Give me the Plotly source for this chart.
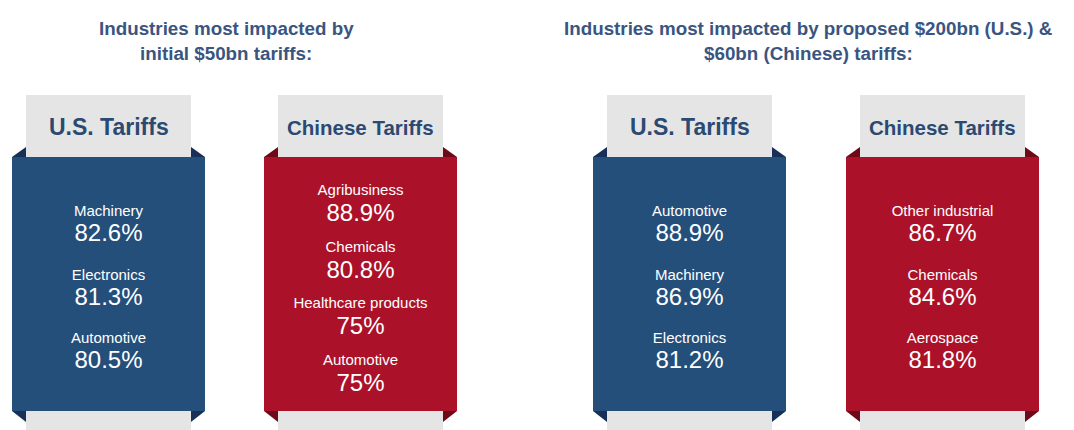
import plotly.graph_objects as go

# ---- data ----
section_titles = [
    ["Industries most impacted by", "initial $50bn tariffs:"],
    ["Industries most impacted by proposed $200bn (U.S.) &", "$60bn (Chinese) tariffs:"],
]
card_titles = ["U.S. Tariffs", "Chinese Tariffs", "U.S. Tariffs", "Chinese Tariffs"]
card_kinds = ["us", "cn", "us", "cn"]

us_50_industries = ["Machinery", "Electronics", "Automotive"]
us_50_values = [82.6, 81.3, 80.5]
cn_50_industries = ["Agribusiness", "Chemicals", "Healthcare products", "Automotive"]
cn_50_values = [88.9, 80.8, 75, 75]
us_200_industries = ["Automotive", "Machinery", "Electronics"]
us_200_values = [88.9, 86.9, 81.2]
cn_60_industries = ["Other industrial", "Chemicals", "Aerospace"]
cn_60_values = [86.7, 84.6, 81.8]

card_industries = [us_50_industries, cn_50_industries, us_200_industries, cn_60_industries]
card_values = [us_50_values, cn_50_values, us_200_values, cn_60_values]

# ---- style / layout ----
W, H = 1074, 430
PAGE_MARGIN = 8  # default body margin of the html page
body_left = [12, 264, 593, 846]
body_w = 193
inset = 14
tab_top, body_top, body_bot = 95, 157, 411
fill = {"us": "#244f7b", "cn": "#ab1229"}
fold = {"us": "#182f57", "cn": "#6e0a18"}
tab_gray = "#e5e5e5"
title_color = "#3a5580"
tab_text_color = "#2b4a72"
font_family = "Liberation Sans, Arial, Helvetica, sans-serif"

shapes = []
annotations = []
fig = go.Figure()

for i, L in enumerate(body_left):
    R = L + body_w
    k = card_kinds[i]
    # folds (top)
    shapes.append(dict(type="path", path=f"M {L},{body_top} L {L+inset},{body_top-10} L {L+inset},{body_top} Z",
                       fillcolor=fold[k], line=dict(width=0), layer="below"))
    shapes.append(dict(type="path", path=f"M {R},{body_top} L {R-inset},{body_top-10} L {R-inset},{body_top} Z",
                       fillcolor=fold[k], line=dict(width=0), layer="below"))
    # folds (bottom)
    shapes.append(dict(type="path", path=f"M {L},{body_bot} L {L+inset},{body_bot+11} L {L+inset},{body_bot} Z",
                       fillcolor=fold[k], line=dict(width=0), layer="below"))
    shapes.append(dict(type="path", path=f"M {R},{body_bot} L {R-inset},{body_bot+11} L {R-inset},{body_bot} Z",
                       fillcolor=fold[k], line=dict(width=0), layer="below"))
    # body
    shapes.append(dict(type="rect", x0=L, x1=R, y0=body_top, y1=body_bot,
                       fillcolor=fill[k], line=dict(width=0), layer="below"))
    # top tab
    shapes.append(dict(type="rect", x0=L + inset, x1=R - inset, y0=tab_top, y1=body_top,
                       fillcolor=tab_gray, line=dict(width=0), layer="below"))
    # bottom tab
    shapes.append(dict(type="rect", x0=L + inset, x1=R - inset, y0=body_bot, y1=H + 5,
                       fillcolor=tab_gray, line=dict(width=0), layer="below"))

    cx = L + body_w / 2
    annotations.append(dict(x=cx, y=127, text=f"<b>{card_titles[i]}</b>", showarrow=False,
                            xref="x", yref="y",
                            font=dict(family=font_family, size=23 if k == "us" else 20.5, color=tab_text_color)))

    inds = card_industries[i]
    vals = card_values[i]
    n = len(inds)
    spacing = 63.5 if n == 3 else 56.5
    center = 276
    label_y = [center + (j - (n - 1) / 2) * spacing for j in range(n)]
    value_y = [y + (22.5 if n == 3 else 24) for y in label_y]
    fig.add_trace(go.Scatter(x=[cx] * n, y=label_y, mode="text", text=inds,
                             textfont=dict(family=font_family, size=15, color="white"),
                             hoverinfo="skip", showlegend=False))
    fig.add_trace(go.Scatter(x=[cx] * n, y=value_y, mode="text", text=[f"{v:g}%" for v in vals],
                             textfont=dict(family=font_family, size=24, color="white"),
                             hoverinfo="skip", showlegend=False))

title_centers = [226, 808]
for t, cx in zip(section_titles, title_centers):
    for j, line in enumerate(t):
        annotations.append(dict(x=cx, y=28 + 25 * j, text=f"<b>{line}</b>", showarrow=False,
                                xref="x", yref="y",
                                font=dict(family=font_family, size=18.8, color=title_color)))

fig.update_layout(
    width=W - PAGE_MARGIN, height=H - PAGE_MARGIN,
    margin=dict(l=0, r=0, t=0, b=0),
    paper_bgcolor="white", plot_bgcolor="white",
    shapes=shapes, annotations=annotations,
    xaxis=dict(range=[PAGE_MARGIN, W], visible=False, fixedrange=True),
    yaxis=dict(range=[H, PAGE_MARGIN], visible=False, fixedrange=True),
    showlegend=False,
)

fig.write_html("out.html")
